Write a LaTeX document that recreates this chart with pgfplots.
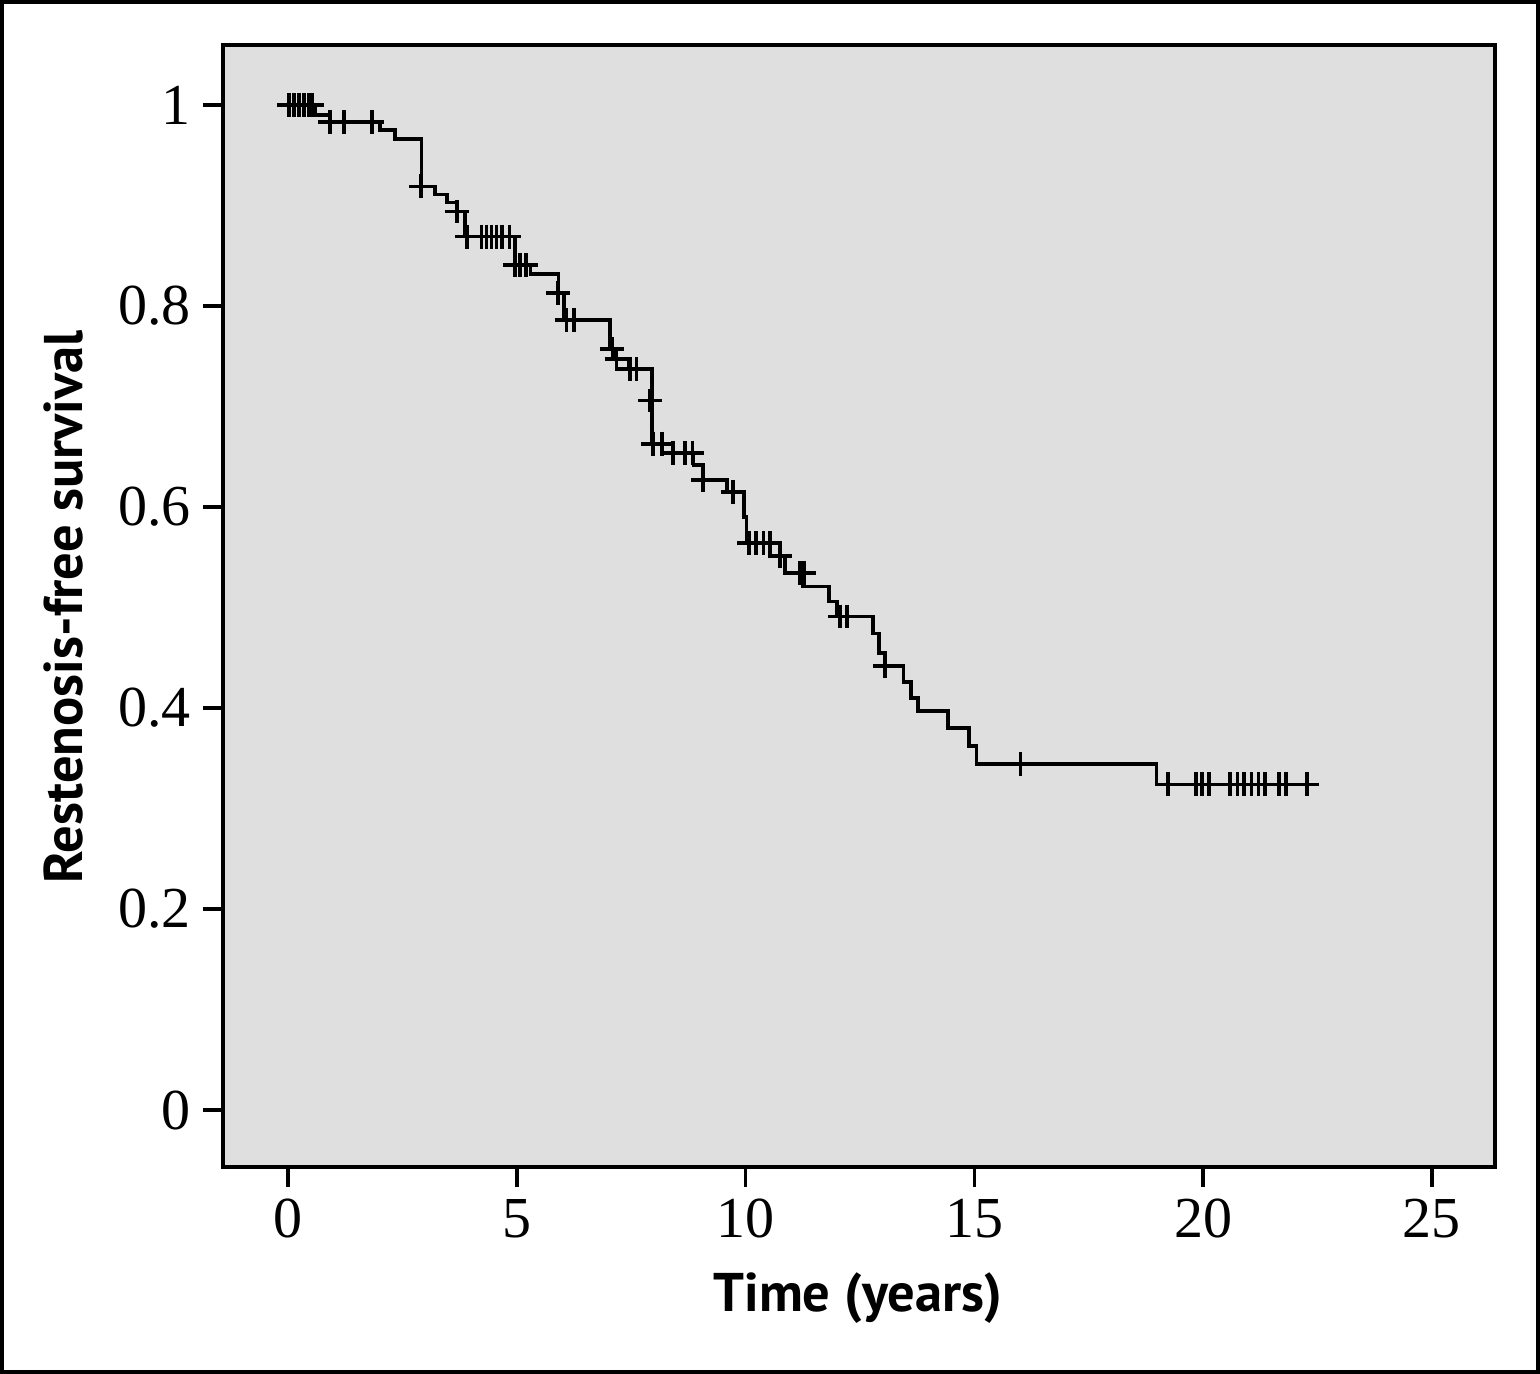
\documentclass[border=0pt]{standalone}
\usepackage{fontspec}
\setmainfont{Liberation Serif}
\newfontfamily\labfont{PT Sans}
\usepackage{pgfplots}
\pgfplotsset{compat=1.18}
\definecolor{bgray}{RGB}{223,223,223}
\begin{document}
\begin{tikzpicture}
\path[use as bounding box] (0,0) rectangle (15.4cm,13.74cm);
\draw[line width=1pt] (0.018cm,0.018cm) rectangle (15.382cm,13.722cm);
\begin{axis}[
  at={(2.23cm,2.07cm)}, anchor=south west,
  scale only axis, width=12.72cm, height=11.22cm,
  xmin=-1.42, xmax=26.38, ymin=-0.0567, ymax=1.0597,
  xtick={0,5,10,15,20,25}, ytick={0,0.2,0.4,0.6,0.8,1},
  tick pos=left, tick align=outside, major tick length=0.2cm,
  every tick/.style={black, line width=1pt},
  axis line style={line width=1.1pt},
  axis background/.style={fill=bgray},
  /pgf/number format/assume math mode=true,
  tick label style={font=\fontsize{16.5}{19}\selectfont},
  clip=false,
]
\addplot[const plot, black, line width=1.05pt, mark=none] coordinates {
(0,1.0) (0.59,0.990) (0.92,0.983) (2.01,0.975) (2.34,0.966) (2.92,0.919)
(3.21,0.911) (3.47,0.903) (3.69,0.894) (3.87,0.869) (4.96,0.841) (5.30,0.832)
(5.91,0.813) (6.03,0.786) (7.04,0.757) (7.10,0.747) (7.45,0.737) (7.95,0.663)
(8.41,0.654) (8.86,0.642) (9.07,0.627) (9.59,0.615) (9.97,0.590) (10.02,0.564)
(10.53,0.551) (10.86,0.534) (11.25,0.521) (11.83,0.506) (12.00,0.491)
(12.78,0.474) (12.92,0.455) (13.05,0.442) (13.45,0.426) (13.61,0.410)
(13.77,0.397) (14.42,0.380) (14.88,0.362) (15.05,0.344) (18.98,0.324) (22.44,0.324)
};
\addplot[only marks, black, mark=+, mark size=3.4pt, mark options={line width=1.05pt}] coordinates {
(0.03,1.0) (0.13,1.0) (0.24,1.0) (0.35,1.0) (0.46,1.0) (0.52,1.0)
(0.92,0.983) (1.22,0.983) (1.83,0.983)
(2.91,0.919) (3.69,0.894)
(3.91,0.869) (4.23,0.869) (4.34,0.869) (4.45,0.869) (4.56,0.869) (4.68,0.869) (4.84,0.869)
(4.96,0.841) (5.07,0.841) (5.20,0.841)
(5.90,0.813) (6.09,0.786) (6.25,0.786)
(7.09,0.757) (7.18,0.747) (7.47,0.737) (7.62,0.737)
(7.91,0.706) (7.98,0.663) (8.17,0.663)
(8.41,0.654) (8.68,0.654) (8.84,0.654)
(9.07,0.627) (9.72,0.615)
(10.08,0.564) (10.23,0.564) (10.39,0.564) (10.53,0.564)
(10.75,0.551) (11.19,0.534) (11.28,0.534)
(12.06,0.491) (12.22,0.491) (13.05,0.442) (16.01,0.344)
(19.24,0.324) (19.84,0.324) (19.98,0.324) (20.13,0.324) (20.59,0.324) (20.75,0.324)
(20.90,0.324) (21.06,0.324) (21.21,0.324) (21.35,0.324) (21.66,0.324) (21.81,0.324) (22.27,0.324)
};
\end{axis}
\node[anchor=base, font=\labfont\bfseries\fontsize{15.5}{18}\selectfont] at (8.58cm,0.62cm) {Time (years)};
\node[rotate=90, anchor=base, font=\labfont\bfseries\fontsize{15.5}{18}\selectfont] at (0.83cm,7.67cm) {Restenosis-free survival};
\end{tikzpicture}
\end{document}
